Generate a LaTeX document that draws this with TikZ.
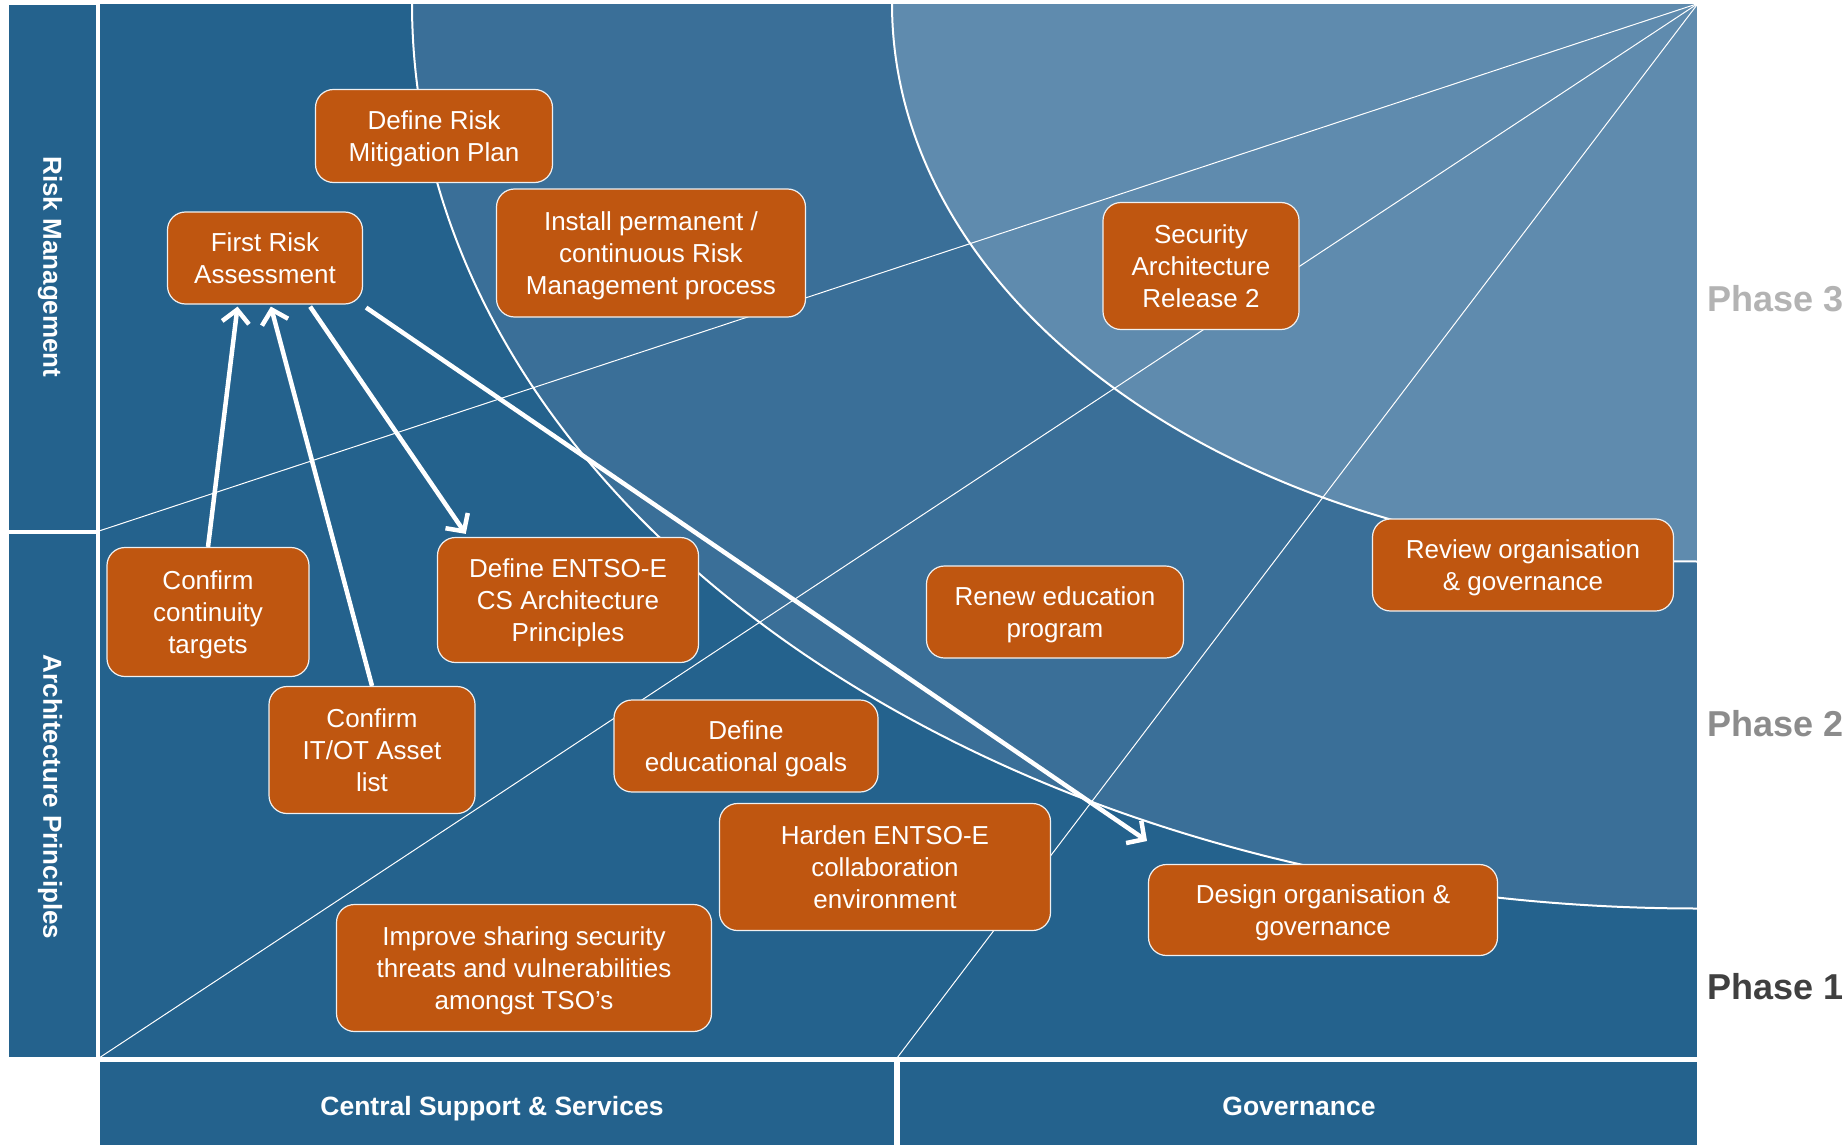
\documentclass[tikz,border=0pt]{standalone}
\usepackage{fontspec}
\setmainfont{Liberation Sans}
\usetikzlibrary{arrows.meta,calc}
\definecolor{bdark}{HTML}{24628D}
\definecolor{bmid}{HTML}{3A6F98}
\definecolor{blight}{HTML}{5F8BAE}
\definecolor{boxor}{HTML}{BF5610}
\definecolor{ph3}{HTML}{B3B3B3}
\definecolor{ph2}{HTML}{8C8C8C}
\definecolor{ph1}{HTML}{404040}
\begin{document}
\begin{tikzpicture}[x=1pt,y=-1pt,
  box/.style={draw=white!88!gray, line width=1.2pt, fill=boxor, rounded corners=18pt,
    text=white, align=center, font=\fontsize{26}{32}\selectfont, inner sep=0pt, text depth=-2pt},
  conn/.style={draw=white, line width=4.5pt, -{Straight Barb[length=13pt,width=27pt]}},
  panel/.style={fill=bdark, draw=white, line width=2.5pt},
  sidelabel/.style={text=white, font=\bfseries\fontsize{26}{30}\selectfont, rotate=-90},
  barlabel/.style={text=white, anchor=base, font=\bfseries\fontsize{26.5}{30}\selectfont},
  phase/.style={anchor=west, font=\bfseries\fontsize{36}{40}\selectfont},
  arcline/.style={draw=white, line width=2pt},
  rayline/.style={draw=white, line width=1pt}]
\useasboundingbox (0,0) rectangle (1845,1145);
\fill[white] (0,0) rectangle (1845,1145);

% main area with phase regions
\fill[bdark] (99,3.5) rectangle (1698,1058);
\begin{scope}
  \clip (99,3.5) rectangle (1698,1058);
  \fill[bmid] (1698,3.5) ellipse [x radius=1286pt, y radius=905pt];
  \fill[blight] (1698,3.5) ellipse [x radius=806pt, y radius=558pt];
  \draw[arcline] (1698,3.5) ellipse [x radius=1286pt, y radius=905pt];
  \draw[arcline] (1698,3.5) ellipse [x radius=806pt, y radius=558pt];
  \coordinate (tr) at (1698,3.5);
  \coordinate (r1) at (99,531);
  \coordinate (r2) at (99,1058);
  \coordinate (r3) at (897,1058);
  \draw[rayline] (tr) -- (r1);
  \draw[rayline] (tr) -- (r2);
  \draw[rayline] (tr) -- (r3);
\end{scope}
\draw[white, line width=1.5pt] (99,3.5) rectangle (1698,1058);

% side and bottom panels
\draw[panel] (8,3.5) rectangle (97,531);
\draw[panel] (8,533) rectangle (97,1058);
\draw[panel] (99,1061) rectangle (895,1150);
\draw[panel] (899,1061) rectangle (1698,1150);

\node[sidelabel] (lrisk) at (50,267) {Risk Management};
\node[sidelabel] (larch) at (50,797) {Architecture Principles};
\node[barlabel] (lcss) at (492,1115) {Central Support \& Services};
\node[barlabel] (lgov) at (1299,1115) {Governance};

\node[phase, text=ph3] (p3) at (1704,299) {Phase 3};
\node[phase, text=ph2] (p2) at (1704,724) {Phase 2};
\node[phase, text=ph1] (p1) at (1704,987) {Phase 1};

% boxes
\node[box, minimum width=237pt, minimum height=93pt] (drmp) at (434,136) {Define Risk\\Mitigation Plan};
\node[box, minimum width=195pt, minimum height=92pt] (fra) at (265,258) {First Risk\\Assessment};
\node[box, minimum width=309pt, minimum height=128pt] (inst) at (651,253) {Install permanent /\\continuous Risk\\Management process};
\node[box, minimum width=196pt, minimum height=127pt] (sar) at (1201,266) {Security\\Architecture\\Release 2};
\node[box, minimum width=301pt, minimum height=92pt] (rog) at (1523,565) {Review organisation\\\& governance};
\node[box, minimum width=257pt, minimum height=92pt] (rep) at (1055,612) {Renew education\\program};
\node[box, minimum width=261pt, minimum height=125pt] (entso) at (568,600) {Define ENTSO-E\\CS Architecture\\Principles};
\node[box, minimum width=202pt, minimum height=129pt] (conf) at (208,612) {Confirm\\continuity\\targets};
\node[box, minimum width=206pt, minimum height=127pt] (itot) at (372,750) {Confirm\\IT/OT Asset\\list};
\node[box, minimum width=264pt, minimum height=92pt] (deg) at (746,746) {Define\\educational goals};
\node[box, minimum width=331pt, minimum height=127pt] (hard) at (885,867) {Harden ENTSO-E\\collaboration\\environment};
\node[box, minimum width=349pt, minimum height=91pt] (dog) at (1323,910) {Design organisation \&\\governance};
\node[box, minimum width=375pt, minimum height=127pt] (imp) at (524,968) {Improve sharing security\\threats and vulnerabilities\\amongst TSO’s};

% connectors
\coordinate (a4end) at (1147,841);
\draw[conn] (conf.north) -- ($(fra.south west)!0.36!(fra.south east)+(0,2)$);
\draw[conn] (itot.north) -- ($(fra.south west)!0.53!(fra.south east)+(0,2)$);
\draw[conn] ($(fra.south west)!0.73!(fra.south east)+(0,2)$) -- ($(entso.north west)!0.11!(entso.north east)+(0,-3)$);
\draw[conn] ($(fra.south east)+(3,3)$) -- (a4end);
\end{tikzpicture}
\end{document}
